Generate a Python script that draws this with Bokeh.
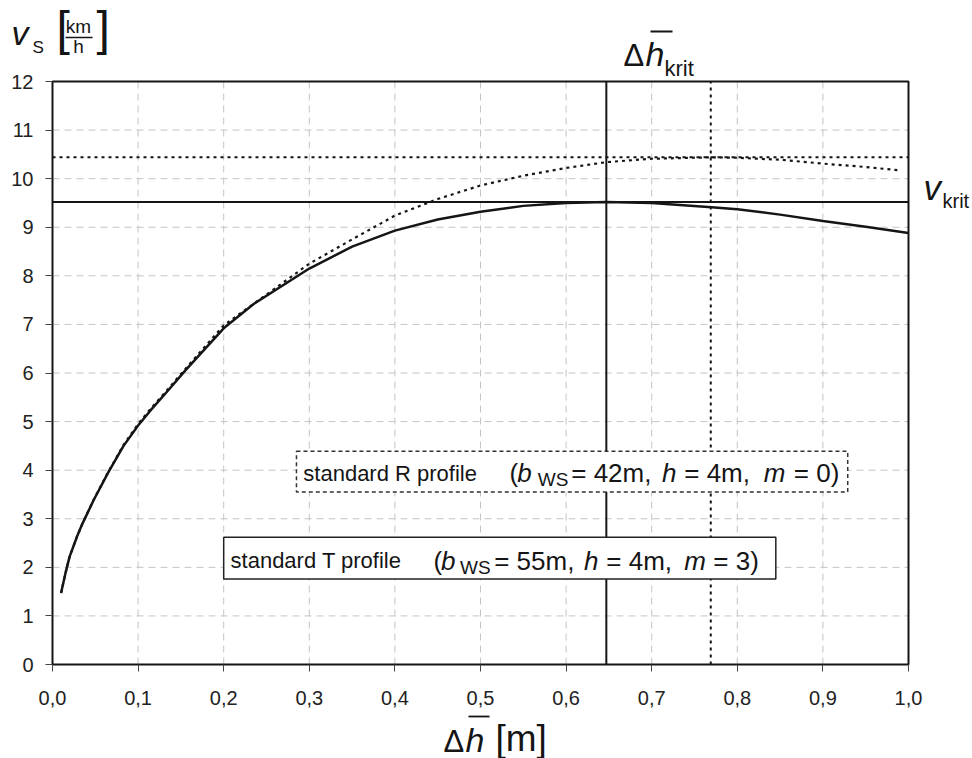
from bokeh.plotting import figure
from bokeh.models import Range1d, FixedTicker, CustomJSTickFormatter, Label, Arrow
from bokeh.core.properties import value
from bokeh.embed import file_html
from bokeh.resources import INLINE

# ---------------- data ----------------
dh_T = [0.01, 0.015, 0.02, 0.029, 0.035, 0.048, 0.065, 0.083, 0.1, 0.115, 0.135, 0.155,
        0.2, 0.235, 0.3, 0.35, 0.4, 0.45, 0.5, 0.55, 0.6, 0.647, 0.7, 0.77, 0.8,
        0.85, 0.9, 0.95, 1.0]
v_T = [1.47, 1.87, 2.22, 2.65, 2.9, 3.38, 3.95, 4.5, 4.92, 5.24, 5.64, 6.05,
       6.92, 7.42, 8.15, 8.6, 8.93, 9.16, 9.32, 9.44, 9.50, 9.52, 9.50, 9.41, 9.37,
       9.26, 9.13, 9.01, 8.88]

dh_R = [0.01, 0.015, 0.02, 0.029, 0.035, 0.048, 0.065, 0.083, 0.1, 0.115, 0.135, 0.155,
        0.2, 0.23, 0.3, 0.35, 0.4, 0.45, 0.5, 0.55, 0.6, 0.647, 0.7, 0.77, 0.8,
        0.85, 0.9, 0.95, 0.99]
v_R = [1.47, 1.87, 2.22, 2.65, 2.9, 3.39, 3.96, 4.52, 4.95, 5.27, 5.67, 6.08,
       6.98, 7.36, 8.25, 8.75, 9.24, 9.58, 9.86, 10.06, 10.22, 10.34, 10.41, 10.44, 10.43,
       10.39, 10.31, 10.24, 10.17]

dh_krit_T, v_krit_T = 0.647, 9.52
dh_krit_R, v_krit_R = 0.769, 10.44

x_min, x_max = 0.0, 1.0
y_min, y_max = 0, 12
x_ticks = [0.0, 0.1, 0.2, 0.3, 0.4, 0.5, 0.6, 0.7, 0.8, 0.9, 1.0]
y_ticks = [0, 1, 2, 3, 4, 5, 6, 7, 8, 9, 10, 11, 12]

FONT = "Liberation Sans"
INK = "#151515"

# canvas geometry: plot area spans pixels 52..908 (x) and 81..664 (y)
W, H = 970, 758
PL, PR, PT, PB = 52, 908, 81, 664
sx = (PR - PL) / (x_max - x_min)
sy = (PB - PT) / (y_max - y_min)
x_lo = x_min - PL / sx
x_hi = x_min + (W - PL) / sx
y_hi = y_min + PB / sy
y_lo = y_min - (H - PB) / sy

p = figure(frame_width=W, frame_height=H, title=None,
           x_range=Range1d(x_lo, x_hi), y_range=Range1d(y_lo, y_hi),
           output_backend="svg", toolbar_location=None,
           min_border_left=0, min_border_right=0, min_border_top=0, min_border_bottom=0)
p.background_fill_color = "white"
p.border_fill_color = "white"
p.outline_line_color = None
p.xgrid.visible = False
p.ygrid.visible = False

# axes pinned to the plot-area edges
p.xaxis.fixed_location = y_min
p.yaxis.fixed_location = x_min
p.xaxis.bounds = (x_min, x_max)
p.yaxis.bounds = (y_min, y_max)
p.xaxis.ticker = FixedTicker(ticks=x_ticks)
p.yaxis.ticker = FixedTicker(ticks=y_ticks)
p.xaxis.formatter = CustomJSTickFormatter(code="return tick.toFixed(1).replace('.', ',');")
for ax in (p.xaxis, p.yaxis):
    ax.axis_line_color = None
    ax.major_tick_line_color = "#444444"
    ax.major_tick_out = 7
    ax.major_tick_in = 0
    ax.minor_tick_line_color = None
    ax.major_label_text_font = FONT
    ax.major_label_text_font_size = "20px"
    ax.major_label_text_color = "#222222"
p.xaxis.major_label_standoff = 19
p.yaxis.major_label_standoff = 12

# dashed grid inside the plot area
p.segment(x0=x_ticks, y0=[y_min] * len(x_ticks), x1=x_ticks, y1=[y_max] * len(x_ticks),
          line_color="#c4c4c4", line_width=1, line_dash="7 5")
p.segment(x0=[x_min] * len(y_ticks), y0=y_ticks, x1=[x_max] * len(y_ticks), y1=y_ticks,
          line_color="#c4c4c4", line_width=1, line_dash="7 5")

# critical lines
p.segment(x0=[x_min], y0=[v_krit_T], x1=[x_max], y1=[v_krit_T], line_color=INK, line_width=2)
p.segment(x0=[dh_krit_T], y0=[y_min], x1=[dh_krit_T], y1=[y_max], line_color=INK, line_width=2)
p.segment(x0=[x_min], y0=[v_krit_R], x1=[x_max], y1=[v_krit_R], line_color=INK, line_width=2, line_dash="3 4")
p.segment(x0=[dh_krit_R], y0=[y_min], x1=[dh_krit_R], y1=[y_max], line_color=INK, line_width=2, line_dash="3 4")

# curves
p.line(dh_R, v_R, line_color=INK, line_width=2.2, line_dash="3 4")
p.line(dh_T, v_T, line_color=INK, line_width=2.5)

# plot-area frame
p.quad(left=[x_min], right=[x_max], bottom=[y_min], top=[y_max], fill_color=None,
       line_color=INK, line_width=2)

# legend boxes
p.quad(left=[0.285], right=[0.929], bottom=[3.55], top=[4.39], fill_color="white",
       line_color="#333333", line_width=1.5, line_dash="4 3")
p.quad(left=[0.200], right=[0.845], bottom=[1.76], top=[2.62], fill_color="white",
       line_color="#222222", line_width=1.5)

def txt(x, y, s, size, style="normal"):
    p.text(x=[x], y=[y], text=[s], text_font=value(FONT), text_font_size=value(size),
           text_font_style=style, text_color=INK, text_align="left", text_baseline="alphabetic")

# R box
yR, yRs = 3.94, 3.80
txt(0.293, yR, "standard R profile", "22px")
txt(0.534, yR, "(", "26px")
txt(0.543, yR, "b", "26px", "italic")
txt(0.567, yRs, "WS", "19px")
txt(0.606, yR, "= 42m,", "26px")
txt(0.712, yR, "h", "26px", "italic")
txt(0.738, yR, "= 4m,", "26px")
txt(0.831, yR, "m", "26px", "italic")
txt(0.866, yR, "= 0)", "26px")

# T box
yT, yTs = 2.14, 2.00
txt(0.208, yT, "standard T profile", "22px")
txt(0.445, yT, "(", "26px")
txt(0.454, yT, "b", "26px", "italic")
txt(0.476, yTs, "WS", "19px")
txt(0.516, yT, "= 55m,", "26px")
txt(0.621, yT, "h", "26px", "italic")
txt(0.647, yT, "= 4m,", "26px")
txt(0.738, yT, "m", "26px", "italic")
txt(0.772, yT, "= 3)", "26px")

# ---- texts outside the plot area: canvas pixels from top-left (y = baseline) ----
def lab(x, y, s, size, style="normal", align="left"):
    p.add_layout(Label(x=x, y=y - 0.37 * size, x_units="canvas", y_units="canvas", text=s,
                       text_font=FONT, text_font_size=f"{size}px", text_font_style=style,
                       text_color=INK, text_align=align, text_baseline="alphabetic"))

def bar(x0, x1, y, w=1.5):
    p.add_layout(Arrow(x_start=x0, y_start=y, x_end=x1, y_end=y, start=None, end=None,
                       start_units="canvas", end_units="canvas",
                       line_color=INK, line_width=w))

# y-axis title  v_S [km/h]
lab(11, 45, "v", 34, "italic")
lab(32, 53, "S", 17)
lab(56, 46, "[", 48)
lab(78, 33, "km", 19, align="center")
bar(65, 92, 37)
lab(78, 53, "h", 19, align="center")
lab(96, 46, "]", 48)

# delta h krit (top)
lab(623, 66, "Δ", 31)
lab(645, 66, "h", 34, "italic")
bar(650, 672, 31, 1.8)
lab(664, 76, "krit", 22)

# v krit (right)
lab(923, 200, "v", 35, "italic")
lab(942, 208, "krit", 20)

# x-axis title  delta h [m]
lab(443, 752, "Δ", 31)
lab(465, 752, "h", 34, "italic")
bar(468, 489, 716, 1.8)
lab(495, 752, "[m]", 37)

open("out.html", "w").write(file_html(p, INLINE))
